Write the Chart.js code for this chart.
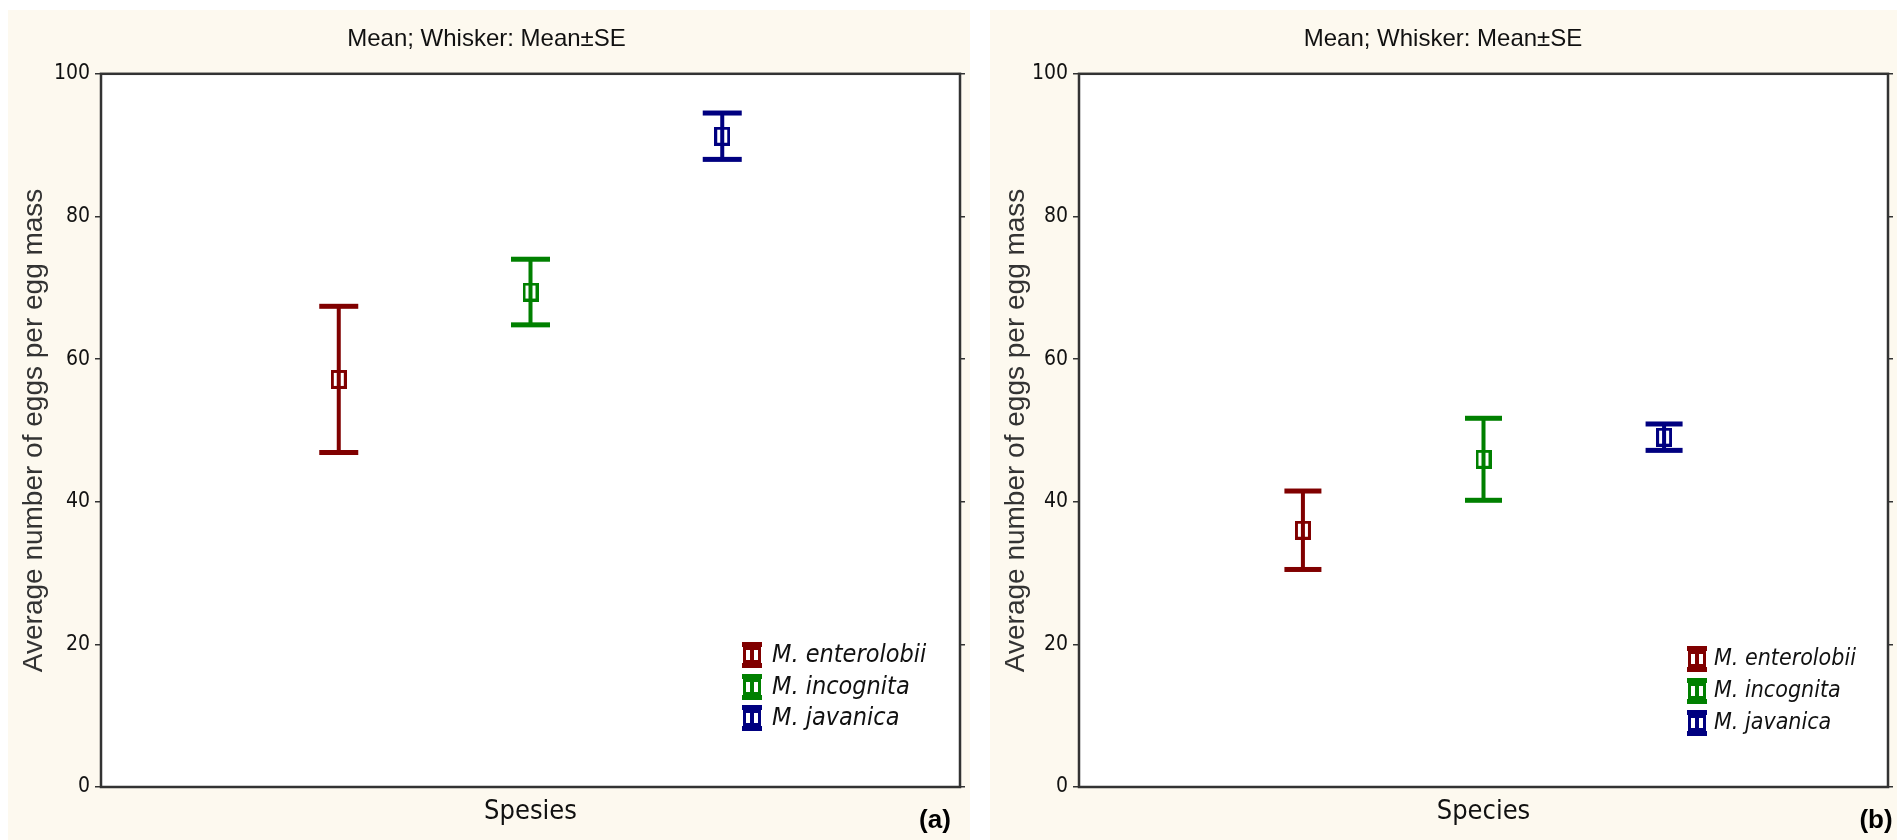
<!DOCTYPE html>
<html>
<head>
<meta charset="utf-8">
<script src="https://cdn.jsdelivr.net/npm/chart.js@4.4.0/dist/chart.umd.min.js"></script>
<style>
  body { margin: 0; background: #fff; width: 1897px; height: 840px; overflow: hidden; position: relative; }
  .panel { position: absolute; top: 10px; height: 830px; background: #fdf9ef; }
  #pa { left: 8px; width: 962px; }
  #pb { left: 990px; width: 907px; }
</style>
</head>
<body>
<div class="panel" id="pa"><canvas id="chartA" width="962" height="830"></canvas></div>
<div class="panel" id="pb"><canvas id="chartB" width="907" height="830"></canvas></div>
<script>
const species = ['M. enterolobii', 'M. incognita', 'M. javanica'];
const colors = ['#800000', '#008000', '#000080'];
const xPos = [1, 2, 3];
const meanA = [57.15, 69.4, 91.25];
const seA = [10.25, 4.6, 3.25];
const meanB = [36.0, 45.95, 49.05];
const seB = [5.5, 5.75, 1.85];
const yTicks = [0, 20, 40, 60, 80, 100];

const narrow = "'Liberation Sans Narrow', 'Arial Narrow', 'DejaVu Sans Condensed', sans-serif";
const regular = "'Liberation Sans', Arial, sans-serif";

// hollow square marker, one per colour
function markerImg(color) {
  const c = document.createElement('canvas');
  c.width = 16; c.height = 19;
  const g = c.getContext('2d');
  g.strokeStyle = color;
  g.lineWidth = 3;
  g.strokeRect(1.5, 1.5, 13, 16);
  return c;
}

const plotBg = {
  id: 'plotBg',
  beforeDraw(chart) {
    const { ctx, chartArea: a } = chart;
    ctx.save();
    ctx.fillStyle = '#fff';
    ctx.fillRect(a.left, a.top, a.right - a.left, a.bottom - a.top);
    ctx.restore();
  }
};

const errorBars = {
  id: 'errorBars',
  beforeDatasetsDraw(chart, args, opts) {
    const { ctx, scales: { x, y } } = chart;
    ctx.save();
    chart.data.datasets.forEach(ds => {
      const px = x.getPixelForValue(ds.data[0].x);
      const top = y.getPixelForValue(ds.hi);
      const bot = y.getPixelForValue(ds.lo);
      ctx.fillStyle = ds.borderColor;
      ctx.fillRect(px - 2, top, 4, bot - top);
      ctx.fillRect(px - opts.cap / 2, top - 2.5, opts.cap, 5);
      ctx.fillRect(px - opts.cap / 2, bot - 2.5, opts.cap, 5);
    });
    ctx.restore();
  }
};

const frame = {
  id: 'frame',
  afterDraw(chart) {
    const { ctx, chartArea: a } = chart;
    ctx.save();
    ctx.strokeStyle = '#333';
    ctx.lineWidth = 2.5;
    ctx.strokeRect(a.left, a.top, a.right - a.left, a.bottom - a.top);
    ctx.restore();
  }
};

const speciesLegend = {
  id: 'speciesLegend',
  afterDraw(chart, args, opts) {
    const { ctx, chartArea: a } = chart;
    ctx.save();
    chart.data.datasets.forEach((ds, i) => {
      const x0 = a.right - opts.fromRight;
      const cy = a.bottom - opts.rows[i];
      ctx.fillStyle = ds.borderColor;
      // small whisker symbol
      ctx.fillRect(x0, cy - 13, 20, 5);
      ctx.fillRect(x0, cy + 8, 20, 5);
      ctx.fillRect(x0 + 8, cy - 13, 4, 26);
      ctx.strokeStyle = ds.borderColor;
      ctx.lineWidth = 3;
      ctx.strokeRect(x0 + 2.5, cy - 6.5, 15, 13);
      ctx.fillStyle = '#111';
      ctx.font = 'italic ' + opts.size + 'px ' + narrow;
      ctx.textBaseline = 'middle';
      ctx.fillText(ds.label, x0 + opts.textGap, cy);
    });
    ctx.restore();
  }
};

const panelTag = {
  id: 'panelTag',
  afterDraw(chart, args, opts) {
    const { ctx } = chart;
    ctx.save();
    ctx.fillStyle = '#000';
    ctx.font = 'bold 26px ' + regular;
    ctx.textAlign = 'center';
    ctx.textBaseline = 'middle';
    ctx.fillText(opts.text, opts.x, opts.y);
    ctx.restore();
  }
};

function makeChart(id, means, ses, xLabel, cfg) {
  const datasets = species.map((s, i) => ({
    label: s,
    data: [{ x: xPos[i], y: means[i] }],
    lo: means[i] - ses[i],
    hi: means[i] + ses[i],
    borderColor: colors[i],
    backgroundColor: colors[i],
    pointStyle: markerImg(colors[i]),
    pointRadius: 8
  }));
  return new Chart(document.getElementById(id), {
    type: 'scatter',
    data: { datasets },
    plugins: [plotBg, errorBars, frame, speciesLegend, panelTag],
    options: {
      responsive: false,
      animation: false,
      layout: { padding: { right: cfg.padRight, bottom: 0, left: 0, top: 0 } },
      plugins: {
        legend: { display: false },
        tooltip: { enabled: false },
        title: {
          display: true,
          text: 'Mean; Whisker: Mean\u00b1SE',
          color: '#111',
          font: { family: regular, size: 24, weight: 'normal' },
          padding: { top: 15, bottom: 20 }
        },
        errorBars: { cap: cfg.cap },
        speciesLegend: cfg.legend,
        panelTag: cfg.tag
      },
      scales: {
        x: {
          type: 'linear',
          min: -0.24,
          max: 4.24,
          grid: { display: false, drawTicks: false },
          border: { display: false },
          ticks: { display: false },
          title: {
            display: true,
            text: xLabel,
            color: '#111',
            font: { family: narrow, size: 27 },
            padding: { top: 0, bottom: 12 }
          },
          afterFit(scale) { scale.height = 53; }
        },
        y: {
          min: 0,
          max: 100,
          afterBuildTicks(scale) { scale.ticks = yTicks.map(v => ({ value: v })); },
          grid: { drawOnChartArea: false, drawTicks: true, tickLength: 6, color: '#333', lineWidth: 1.5 },
          border: { display: false },
          ticks: { color: '#111', padding: 5, font: { family: narrow, size: 21 } },
          title: {
            display: true,
            text: 'Average number of eggs per egg mass',
            color: '#333',
            font: { family: regular, size: 28 },
            padding: { top: 9, bottom: 0 }
          },
          afterFit(scale) { scale.width = cfg.yWidth; }
        },
        y2: {
          position: 'right',
          min: 0,
          max: 100,
          afterBuildTicks(scale) { scale.ticks = yTicks.map(v => ({ value: v })); },
          grid: { drawOnChartArea: false, drawTicks: true, tickLength: 5, color: '#333', lineWidth: 1.5 },
          border: { display: false },
          ticks: { display: false },
          afterFit(scale) { scale.width = cfg.padRight2; }
        }
      }
    }
  });
}

makeChart('chartA', meanA, seA, 'Spesies', {
  yWidth: 93, padRight: 5, padRight2: 5, cap: 39,
  legend: { fromRight: 218, rows: [132, 100, 69], textGap: 30, size: 25 },
  tag: { text: '(a)', x: 927, y: 811 }
});
makeChart('chartB', meanB, seB, 'Species', {
  yWidth: 89, padRight: 1, padRight2: 5, cap: 37,
  legend: { fromRight: 201, rows: [128, 96, 64], textGap: 27, size: 23 },
  tag: { text: '(b)', x: 886, y: 811 }
});
</script>
</body>
</html>
